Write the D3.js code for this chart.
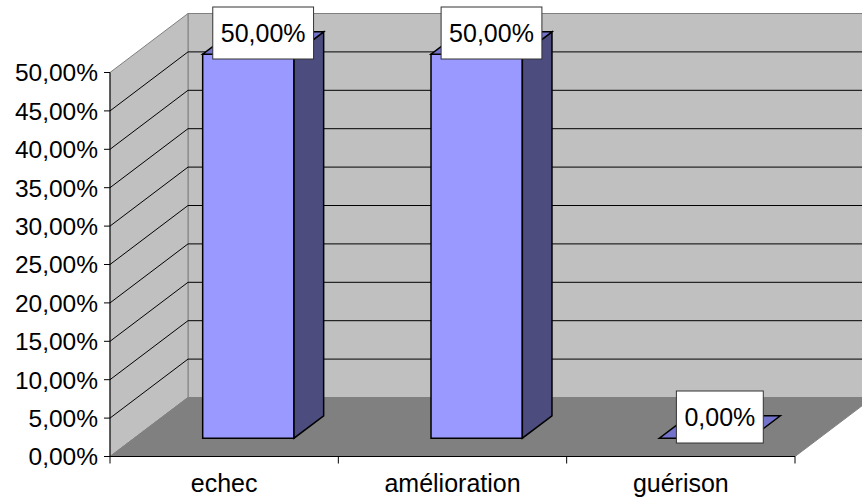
<!DOCTYPE html>
<html>
<head>
<meta charset="utf-8">
<script src="https://cdn.jsdelivr.net/npm/d3@7"></script>
<style>
  html, body { margin: 0; padding: 0; background: #ffffff; }
  svg { display: block; font-family: "Liberation Sans", Arial, sans-serif; }
</style>
</head>
<body>
<svg id="chart" width="862" height="499"></svg>
<script>
// Outcome shares per category
const categories = ["echec", "amélioration", "guérison"];
const values = [0.5, 0.5, 0];
const yTickValues = [0, 0.05, 0.10, 0.15, 0.20, 0.25, 0.30, 0.35, 0.40, 0.45, 0.50];

const fmtPct = v => (v * 100).toFixed(2).replace(".", ",") + "%";

const W = 862, H = 499;
const svg = d3.select("#chart");

// Front plane of the plot
const x0 = 110, x1 = 795;
const x = d3.scaleBand().domain(categories).range([x0, x1])
  .paddingInner(0.6).paddingOuter(0.3);
const xTicks = d3.scaleBand().domain(categories).range([x0, x1]).padding(0);
const y = d3.scaleLinear().domain([0, 0.5]).range([456.5, 72.5]);

// Oblique depth offset (full depth of the floor)
const DX = 78, DY = -59;
const P = (px, v, d) => [px + d * DX, y(v) + d * DY];
const poly = pts => "M" + pts.map(p => p.join(",")).join("L") + "Z";

const wallFill = "#c0c0c0", floorFill = "#808080", edge = "#808080";

// Back wall (runs past the right edge)
svg.append("path")
  .attr("d", poly([P(x0, 0, 1), P(x0, 0.5, 1), P(x1, 0.5, 1), P(x1, 0, 1)]))
  .attr("fill", wallFill).attr("stroke", edge).attr("stroke-width", 1);

// Side wall
svg.append("path")
  .attr("d", poly([P(x0, 0, 0), P(x0, 0.5, 0), P(x0, 0.5, 1), P(x0, 0, 1)]))
  .attr("fill", wallFill).attr("stroke", edge).attr("stroke-width", 1);

// Floor
svg.append("path")
  .attr("d", poly([P(x0, 0, 0), P(x1, 0, 0), P(x1, 0, 1), P(x0, 0, 1)]))
  .attr("fill", floorFill).attr("stroke", edge).attr("stroke-width", 1);

// Gridlines on side and back walls
const gridVals = yTickValues.filter(v => v > 0 && v < 0.5);
const grid = svg.append("g").attr("stroke", "#000").attr("stroke-width", 1).attr("fill", "none");
gridVals.forEach(v => {
  const a = P(x0, v, 0), b = P(x0, v, 1), c = P(x1, v, 1);
  grid.append("path").attr("d", `M${a}L${b}L${c}`);
});

// Y axis
const yAxis = svg.append("g");
yAxis.append("line").attr("x1", x0).attr("x2", x0).attr("y1", y(0)).attr("y2", y(0.5))
  .attr("stroke", "#000").attr("stroke-width", 1);
yTickValues.forEach(v => {
  yAxis.append("line").attr("x1", x0 - 6).attr("x2", x0).attr("y1", y(v)).attr("y2", y(v))
    .attr("stroke", "#000").attr("stroke-width", 1);
  yAxis.append("text").attr("x", 98).attr("y", y(v)).attr("dy", "0.36em")
    .attr("text-anchor", "end").attr("font-size", 24.5).attr("fill", "#000")
    .text(fmtPct(v));
});

// X axis
const xAxis = svg.append("g");
xAxis.append("line").attr("x1", x0).attr("x2", x1).attr("y1", y(0)).attr("y2", y(0))
  .attr("stroke", "#000").attr("stroke-width", 1);
categories.concat([null]).forEach((c, i) => {
  const tx = c === null ? x1 : xTicks(c);
  xAxis.append("line").attr("x1", tx).attr("x2", tx).attr("y1", y(0)).attr("y2", y(0) + 7)
    .attr("stroke", "#000").attr("stroke-width", 1);
});
categories.forEach(c => {
  xAxis.append("text").attr("x", xTicks(c) + xTicks.bandwidth() / 2).attr("y", 492)
    .attr("text-anchor", "middle").attr("font-size", 25).attr("fill", "#000").text(c);
});

// 3D bars
const d0 = 0.31, d1 = 0.69;
const bars = svg.append("g").attr("stroke", "#000").attr("stroke-width", 1.5).attr("stroke-linejoin", "miter");
categories.forEach((c, i) => {
  const v = values[i];
  const l = x(c), r = x(c) + x.bandwidth();
  const g = bars.append("g");
  if (v > 0) {
    g.append("path").attr("fill", "#9999ff")
      .attr("d", poly([P(l, 0, d0), P(l, v, d0), P(r, v, d0), P(r, 0, d0)]));
    g.append("path").attr("fill", "#4c4c7f")
      .attr("d", poly([P(r, 0, d0), P(r, v, d0), P(r, v, d1), P(r, 0, d1)]));
  }
  g.append("path").attr("fill", "#7373cc")
    .attr("d", poly([P(l, v, d0), P(r, v, d0), P(r, v, d1), P(l, v, d1)]));
});

// Value labels
const labels = svg.append("g");
categories.forEach((c, i) => {
  const v = values[i];
  const [cx, cy0] = P(x(c) + x.bandwidth() / 2, v, 0.5);
  const cy = cy0 - 10;
  const g = labels.append("g");
  const rect = g.append("rect").attr("fill", "#fff").attr("stroke", "#333").attr("stroke-width", 1);
  const t = g.append("text").attr("x", cx).attr("y", cy).attr("dy", "0.36em")
    .attr("text-anchor", "middle").attr("font-size", 25).attr("fill", "#000").text(fmtPct(v));
  const tw = t.node().getComputedTextLength();
  const bw = tw + 16, bh = 52;
  rect.attr("x", cx - bw / 2).attr("y", cy - bh / 2).attr("width", bw).attr("height", bh);
});
</script>
</body>
</html>
